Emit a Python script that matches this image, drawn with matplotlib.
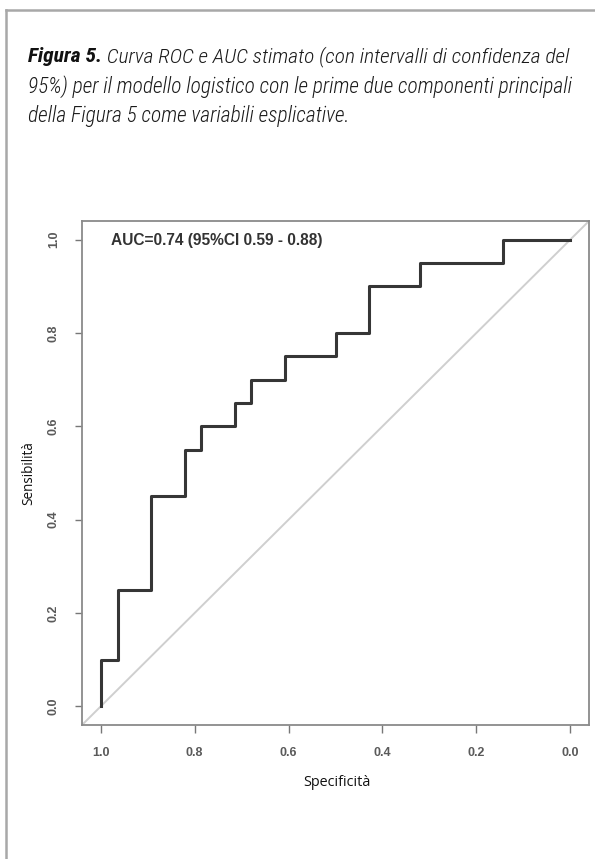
import matplotlib
matplotlib.use("Agg")
import matplotlib.pyplot as plt
from matplotlib import font_manager as fm
from matplotlib.lines import Line2D

# ---- data ----
specificity = [1.0, 1.0, 0.964, 0.893, 0.821, 0.786, 0.714, 0.679, 0.607, 0.500, 0.429, 0.321, 0.143, 0.0]
sensitivity = [0.0, 0.10, 0.25, 0.45, 0.55, 0.60, 0.65, 0.70, 0.75, 0.80, 0.90, 0.95, 1.00, 1.00]
tick_values = [1.0, 0.8, 0.6, 0.4, 0.2, 0.0]
tick_labels = ["1.0", "0.8", "0.6", "0.4", "0.2", "0.0"]
auc_text = "AUC=0.74 (95%CI 0.59 - 0.88)"
x_label = "Specificità"
y_label = "Sensibilità"
caption_bold = "Figura 5."
caption_lines = [
    " Curva ROC e AUC stimato (con intervalli di confidenza del",
    "95%) per il modello logistico con le prime due componenti principali",
    "della Figura 5 come variabili esplicative.",
]

W, H = 595, 859
fig = plt.figure(figsize=(W / 100, H / 100), dpi=100)
fig.patch.set_facecolor("white")

names = {f.name for f in fm.fontManager.ttflist}
cap_family = next((n for n in ["Liberation Sans Narrow", "Roboto Condensed", "Open Sans Condensed",
                               "Liberation Sans", "Roboto"] if n in names), "DejaVu Sans")
plot_family = "Liberation Sans" if "Liberation Sans" in names else "DejaVu Sans"
label_family = "Open Sans" if "Open Sans" in names else "DejaVu Sans"


def fx(px):
    return px / W


def fy(py):
    return 1 - py / H


# outer page border (top and left only)
fig.add_artist(Line2D([fx(6), 1.0], [fy(10), fy(10)], color="#a8a8a8", lw=1.8, transform=fig.transFigure))
fig.add_artist(Line2D([fx(6), fx(6)], [fy(10), 0.0], color="#a8a8a8", lw=1.8, transform=fig.transFigure))

# axes
ax_l, ax_r, ax_t, ax_b = 82, 589, 221, 725
ax = fig.add_axes([fx(ax_l), fy(ax_b), (ax_r - ax_l) / W, (ax_b - ax_t) / H])
ax.set_xlim(1.04, -0.04)
ax.set_ylim(-0.04, 1.04)
for s in ax.spines.values():
    s.set_color("#8a8a8a")
    s.set_linewidth(1.3)

ax.axline((1.0, 0.0), (0.0, 1.0), color="#cfcfcf", lw=1.4, zorder=1)
ax.step(specificity, sensitivity, where="post", color="#363636", lw=2.2, zorder=3)

ax.set_xticks(tick_values)
ax.set_xticklabels(tick_labels)
ax.set_yticks(tick_values)
ax.set_yticklabels(tick_labels, rotation=90, va="center")
ax.tick_params(axis="x", length=5.5, width=1.0, color="#777777", pad=10,
               labelsize=9, labelcolor="#5a5a5a")
ax.tick_params(axis="y", length=5.0, width=1.0, color="#777777", pad=11,
               labelsize=9, labelcolor="#5a5a5a")
for lab in ax.get_xticklabels() + ax.get_yticklabels():
    lab.set_family(plot_family)
    lab.set_weight("bold")

auc = ax.text((111 - ax_l) / (ax_r - ax_l), 1 - (240 - ax_t) / (ax_b - ax_t), auc_text,
              transform=ax.transAxes, ha="left", va="center", fontsize=9.5,
              family=plot_family, weight="bold", color="#333333")

xl = fig.text(fx(337), fy(783), x_label, ha="center", va="center", fontsize=9,
              family=label_family, color="#111111")
yl = fig.text(fx(29), fy(473), y_label, ha="center", va="center", rotation=90, fontsize=9,
              family=label_family, color="#111111")

# caption
c0 = fig.text(fx(28), fy(62), caption_bold, ha="left", va="baseline", fontsize=13,
              family=cap_family, style="italic", weight="bold", color="#111111")
c1 = fig.text(0, 0, caption_lines[0], ha="left", va="baseline", fontsize=13,
              family=cap_family, style="italic", weight="light", color="#1a1a1a")
c2 = fig.text(fx(28), fy(93), caption_lines[1], ha="left", va="baseline", fontsize=13,
              family=cap_family, style="italic", weight="light", color="#1a1a1a")
c3 = fig.text(fx(28), fy(122), caption_lines[2], ha="left", va="baseline", fontsize=13,
              family=cap_family, style="italic", weight="light", color="#1a1a1a")

fig.canvas.draw()
r = fig.canvas.get_renderer()


def fit_w(t, target):
    bb = t.get_window_extent(r)
    t.set_fontsize(t.get_fontsize() * target / bb.width)


def fit_h(t, target):
    bb = t.get_window_extent(r)
    t.set_fontsize(t.get_fontsize() * target / bb.height)


fit_w(auc, 213)
fit_w(xl, 68)
fit_h(yl, 65)

# first caption line: bold part + regular part together span 28..568
w0 = c0.get_window_extent(r).width
w1 = c1.get_window_extent(r).width
k = (568 - 28) / (w0 + w1)
c0.set_fontsize(c0.get_fontsize() * k)
c1.set_fontsize(c1.get_fontsize() * k)
fig.canvas.draw()
bb0 = c0.get_window_extent(r)
c1.set_position((bb0.x1 / W, fy(62)))
fit_w(c2, 571 - 28)
c3.set_fontsize(c2.get_fontsize())

fig.savefig("out.png", dpi=100, facecolor="white")
